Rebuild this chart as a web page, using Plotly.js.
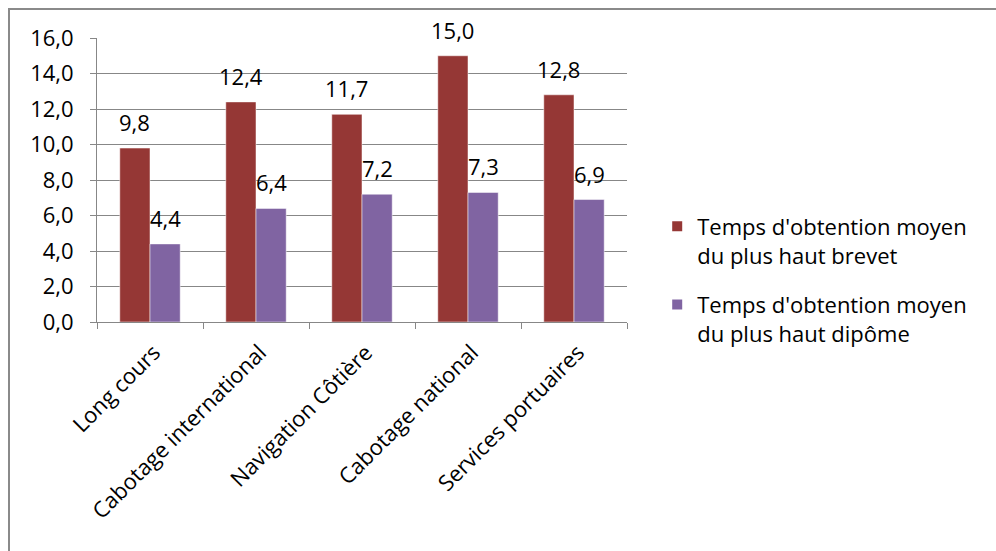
<!DOCTYPE html>
<html>
<head>
<meta charset="utf-8">
<script src="https://cdn.plot.ly/plotly-3.0.1.min.js"></script>
<style>
  html, body { margin: 0; padding: 0; background: #fff; }
  #wrap { position: relative; width: 996px; height: 551px; }
  #frame { position: absolute; left: 8px; top: 8px; width: 988px; height: 543px;
           border-top: 2px solid #8a8a8a; border-left: 2px solid #8a8a8a; box-sizing: border-box; pointer-events: none; }
  #chart { position: absolute; left: 0; top: 0; width: 996px; height: 551px; }
</style>
</head>
<body>
<div id="wrap">
  <div id="chart"></div>
  <div id="frame"></div>
</div>
<script>
const categories = ["Long cours", "Cabotage international", "Navigation Côtière", "Cabotage national", "Services portuaires"];
const brevet = [9.8, 12.4, 11.7, 15.0, 12.8];
const diplome = [4.4, 6.4, 7.2, 7.3, 6.9];
const seriesNames = ["Temps d'obtention moyen<br>du plus haut brevet", "Temps d'obtention moyen<br>du plus haut dipôme"];
const yTicks = [0, 2, 4, 6, 8, 10, 12, 14, 16];

const font = "'Open Sans', sans-serif";
const colors = ["#953735", "#8064A2"];
const series = [brevet, diplome];

const W = 996, H = 551;
const margin = { l: 97, r: 369, t: 38, b: 229, pad: 0 };
const bargap = 0.43;

const traces = series.map((vals, i) => ({
  type: "bar", x: categories, y: vals, name: seriesNames[i],
  legendgroup: "s" + i,
  marker: { color: colors[i], line: { color: "#ffffff", width: 0.5 } }
}));

// data labels as annotations, shifted to the centre of each grouped bar
const plotW = W - margin.l - margin.r;
const catW = plotW / categories.length;
const barW = catW * (1 - bargap) / series.length;
const annotations = [];
series.forEach((vals, i) => {
  const shift = (i - (series.length - 1) / 2) * barW;
  vals.forEach((v, j) => {
    annotations.push({
      x: categories[j], y: v, xref: "x", yref: "y",
      text: v.toFixed(1).replace(".", ","),
      showarrow: false, xanchor: "center", yanchor: "bottom",
      xshift: shift, yshift: 9,
      font: { family: font, size: 22, color: "#000" }
    });
  });
});

const layout = {
  width: W, height: H,
  margin: margin,
  separators: ", ",
  barmode: "group",
  bargap: bargap,
  bargroupgap: 0,
  paper_bgcolor: "#fff", plot_bgcolor: "#fff",
  font: { family: font, size: 22, color: "#000" },
  showlegend: true,
  annotations: annotations,
  legend: {
    x: 1.057, xanchor: "left", y: 0.41, yanchor: "top",
    font: { family: font, size: 22, color: "#000" },
    valign: "top",
    itemsizing: "constant", tracegroupgap: 18, traceorder: "grouped",
    bgcolor: "rgba(0,0,0,0)"
  },
  xaxis: {
    type: "category", tickson: "boundaries",
    ticks: "outside", ticklen: 6, tickcolor: "#878787",
    showline: true, linecolor: "#878787", linewidth: 1,
    showgrid: false, tickangle: -45,
    ticklabelstandoff: 8, ticklabelshift: 4,
    tickfont: { family: font, size: 22, color: "#000" }
  },
  yaxis: {
    range: [0, 16], tickvals: yTicks, tickformat: ".1f",
    ticks: "outside", ticklen: 6, tickcolor: "#878787",
    showline: true, linecolor: "#878787", linewidth: 1,
    showgrid: true, gridcolor: "#878787", gridwidth: 1,
    zeroline: false, ticklabelstandoff: 12,
    tickfont: { family: font, size: 22, color: "#000" }
  }
};

Plotly.newPlot("chart", traces, layout, { displayModeBar: false, staticPlot: true });
</script>
</body>
</html>
